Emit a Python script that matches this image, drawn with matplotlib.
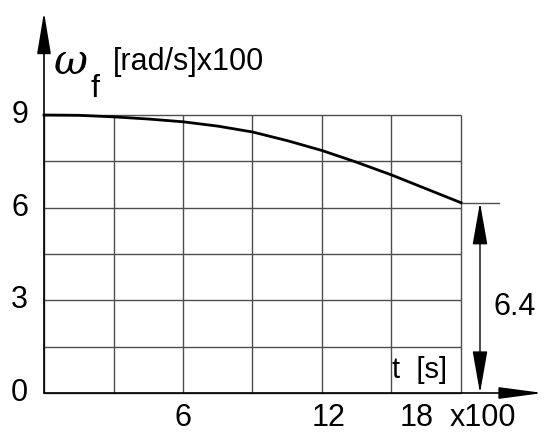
import matplotlib
matplotlib.use('Agg')
import matplotlib.pyplot as plt

# data (t in s x100, omega in rad/s x100)
t_vals = [0, 1.5, 3, 4.5, 6, 7.5, 9, 10.5, 12, 13.5, 15, 16.5, 18]
w_vals = [9.0, 8.99, 8.94, 8.87, 8.78, 8.64, 8.45, 8.17, 7.85, 7.47, 7.06, 6.61, 6.16]
x_grid = [0, 3, 6, 9, 12, 15, 18]
y_grid = [0, 1.5, 3, 4.5, 6, 7.5, 9]
y_ticks = [0, 3, 6, 9]
x_ticks = [6, 12, 18]
x_tick_pos = [6, 12.3, 16.1]
dim_label = '6.4'

plt.rcParams['font.family'] = ['Liberation Sans', 'DejaVu Sans']

fig = plt.figure(figsize=(5.5, 4.43), dpi=100)
ax = fig.add_axes([44 / 550, 50 / 443, 417 / 550, 278 / 443])
ax.set_xlim(0, 18)
ax.set_ylim(0, 9)
ax.axis('off')

grid_c = '#4d4d4d'
ax.vlines(x_grid, 0, 9, colors=grid_c, lw=1.0, clip_on=False)
ax.hlines(y_grid, 0, 18, colors=grid_c, lw=1.0, clip_on=False)

ax.plot(t_vals, w_vals, color='black', lw=2.0, clip_on=False, zorder=3)

# axes arrows
ax.annotate('', xy=(0, 12.33), xytext=(0, 0),
            arrowprops=dict(arrowstyle='-|>,head_length=2.6,head_width=0.43',
                            mutation_scale=10, color='black', lw=1.2,
                            shrinkA=0, shrinkB=0), annotation_clip=False)
ax.annotate('', xy=(21.54, 0), xytext=(0, 0),
            arrowprops=dict(arrowstyle='-|>,head_length=2.7,head_width=0.36',
                            mutation_scale=10, color='black', lw=1.2,
                            shrinkA=0, shrinkB=0), annotation_clip=False)

# dimension for the end value
ax.plot([18, 19.64], [w_vals[-1], w_vals[-1]], color=grid_c, lw=1.0, clip_on=False)
ax.annotate('', xy=(18.82, w_vals[-1]), xytext=(18.82, 0),
            arrowprops=dict(arrowstyle='<|-|>,head_length=2.66,head_width=0.47',
                            mutation_scale=10, color='black', lw=1.0,
                            shrinkA=0, shrinkB=0), annotation_clip=False)
ax.text(20.33, 2.78, dim_label, fontsize=22, ha='center', va='center')

# tick labels
for v in y_ticks:
    ax.text(-1.05, v, str(v), fontsize=22, ha='center', va='center')
for v, p in zip(x_ticks, x_tick_pos):
    ax.text(p, -0.8, str(v), fontsize=22, ha='center', va='center')
ax.text(17.52, -0.8, 'x100', fontsize=22, ha='left', va='center')

# axis titles
ax.text(15.02, 0.74, 't  [s]', fontsize=21, ha='left', va='center')
ax.text(1.17, 10.7, 'ω', fontsize=30, family='DejaVu Serif', style='italic',
        ha='center', va='center')
ax.text(2.2, 9.85, 'f', fontsize=23, ha='center', va='center')
ax.text(2.98, 10.72, '[rad/s]x100', fontsize=22, ha='left', va='center')

fig.savefig('out.png', dpi=100)
